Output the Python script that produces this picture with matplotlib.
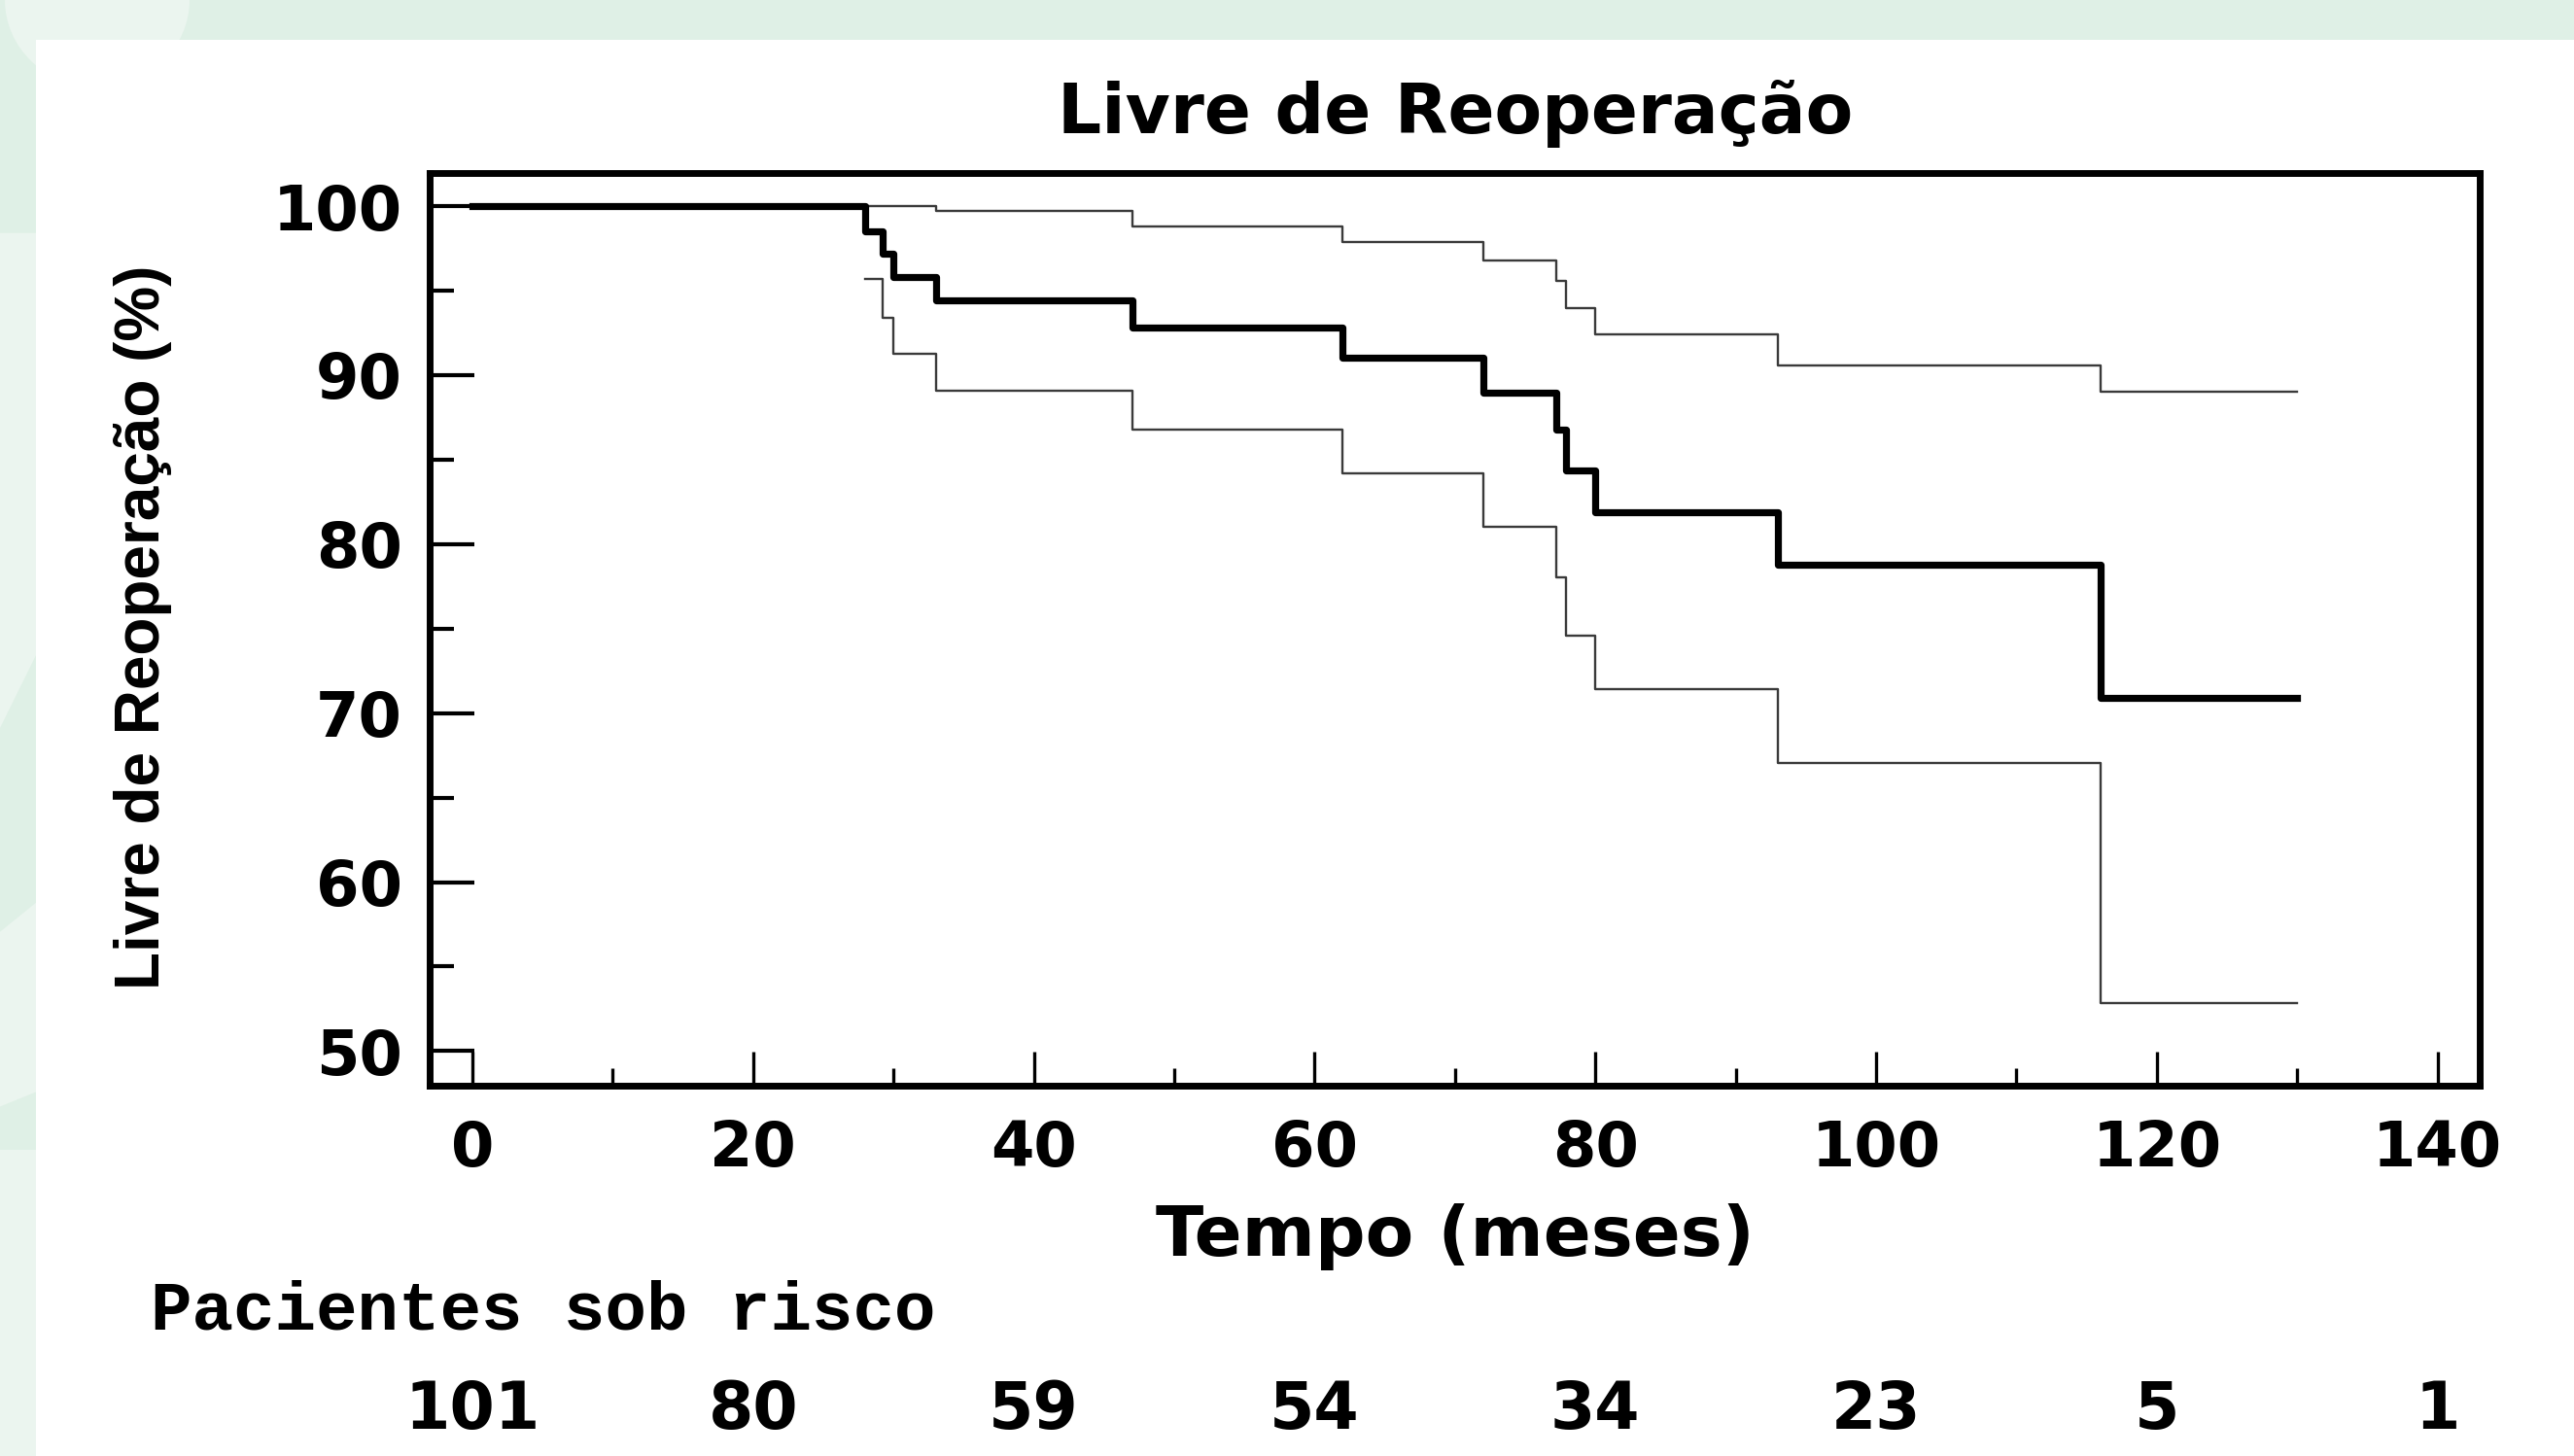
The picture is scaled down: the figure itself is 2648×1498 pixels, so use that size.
import numpy as np
import matplotlib.pyplot as plt
from matplotlib.patches import Rectangle, Polygon, Ellipse
from matplotlib.ticker import MultipleLocator
import matplotlib.transforms as mtransforms

# --- data (time in months, survival in %) ---
t_main = [0, 28, 29.25, 30, 33, 47, 62, 72, 77.2, 77.9, 80, 93, 116, 130]
s_main = [100, 98.5, 97.2, 95.8, 94.4, 92.8, 91.05, 88.95, 86.8, 84.35, 81.9, 78.8, 70.9, 70.9]

t_upper = [0, 33, 47, 62, 72, 77.2, 77.9, 80, 93, 116, 130]
s_upper = [100, 99.7, 98.8, 97.9, 96.8, 95.6, 93.95, 92.4, 90.55, 89.0, 89.0]

t_lower = [28, 29.25, 30, 33, 47, 62, 72, 77.2, 77.9, 80, 93, 116, 130]
s_lower = [95.7, 93.4, 91.25, 89.1, 86.8, 84.2, 81.05, 78.05, 74.6, 71.4, 67.05, 52.85, 52.85]

risk_times = [0, 20, 40, 60, 80, 100, 120, 140]
risk_counts = [101, 80, 59, 54, 34, 23, 5, 1]

W, H = 2648, 1498
fig = plt.figure(figsize=(W / 100, H / 100), dpi=100)
fig.patch.set_facecolor('#dff0e6')

# slide-like background: light green strips with a white panel
for poly in [[(0, 0.84), (37 / W, 0.84), (37 / W, 0.55), (0, 0.50)],
             [(0, 0.36), (37 / W, 0.38), (37 / W, 0.25), (0, 0.24)],
             [(0, 0.21), (37 / W, 0.21), (37 / W, 0.0), (0, 0.0)]]:
    fig.patches.append(Polygon(poly, closed=True, transform=fig.transFigure,
                               facecolor='#ebf5ef', edgecolor='none', zorder=-10))
fig.patches.append(Ellipse((100 / W, 1.0), 190 / W, 0.12, transform=fig.transFigure,
                           facecolor='#ebf5ef', edgecolor='none', zorder=-10))
fig.patches.append(Rectangle((37 / W, 0), 1 - 37 / W, 1 - 41 / H, transform=fig.transFigure,
                             facecolor='white', edgecolor='none', zorder=-9))

ax = fig.add_axes([441.5 / W, 1 - 1116.5 / H, (2551 - 441.5) / W, (1116.5 - 178) / H])
ax.set_zorder(5)
ax.set_facecolor('white')

ax.step(t_upper, s_upper, where='post', color='#3a3a3a', lw=1.7)
ax.step(t_lower, s_lower, where='post', color='#3a3a3a', lw=1.7)
ax.step(t_main, s_main, where='post', color='black', lw=5.2)

ax.set_xlim(-3.08, 143.0)
ax.set_ylim(47.98, 101.96)

for sp in ax.spines.values():
    sp.set_linewidth(5)

ax.xaxis.set_major_locator(MultipleLocator(20))
ax.xaxis.set_minor_locator(MultipleLocator(10))
ax.yaxis.set_major_locator(MultipleLocator(10))
ax.yaxis.set_minor_locator(MultipleLocator(5))
ax.tick_params(axis='y', which='major', direction='in', length=33, width=3, pad=20)
ax.tick_params(axis='y', which='minor', direction='in', length=18, width=3)
ax.tick_params(axis='x', which='major', direction='in', length=25, width=2.4, pad=25)
ax.tick_params(axis='x', which='minor', direction='in', length=13, width=2.4)

for lab in ax.get_xticklabels() + ax.get_yticklabels():
    lab.set_fontfamily('DejaVu Sans')
    lab.set_fontweight('bold')
    lab.set_fontsize(46)

fig.text(1497 / W, 1 - 136.7 / H, 'Livre de Reoperação', ha='center', va='baseline',
         fontsize=51, fontweight='bold', family='DejaVu Sans')
fig.text(1497 / W, 1 - 1291.7 / H, 'Tempo (meses)', ha='center', va='baseline',
         fontsize=52, fontweight='bold', family='DejaVu Sans')
fig.text(147 / W, 1 - 645 / H, 'Livre de Reoperação (%)', ha='center', va='center',
         rotation=90, fontsize=46, fontweight='bold', family='Liberation Sans')

# number at risk table
fig.text(155 / W, 1 - 1368 / H, 'Pacientes sob risco', ha='left', va='baseline',
         fontsize=51, fontweight='bold', family='Liberation Mono')
trans = mtransforms.blended_transform_factory(ax.transData, fig.transFigure)
for t, n in zip(risk_times, risk_counts):
    ax.text(t, 1 - 1470 / H, str(n), transform=trans, ha='center', va='baseline',
            fontsize=48, fontweight='bold', family='DejaVu Sans', clip_on=False)

fig.savefig('out.png', dpi=100, facecolor=fig.get_facecolor())
